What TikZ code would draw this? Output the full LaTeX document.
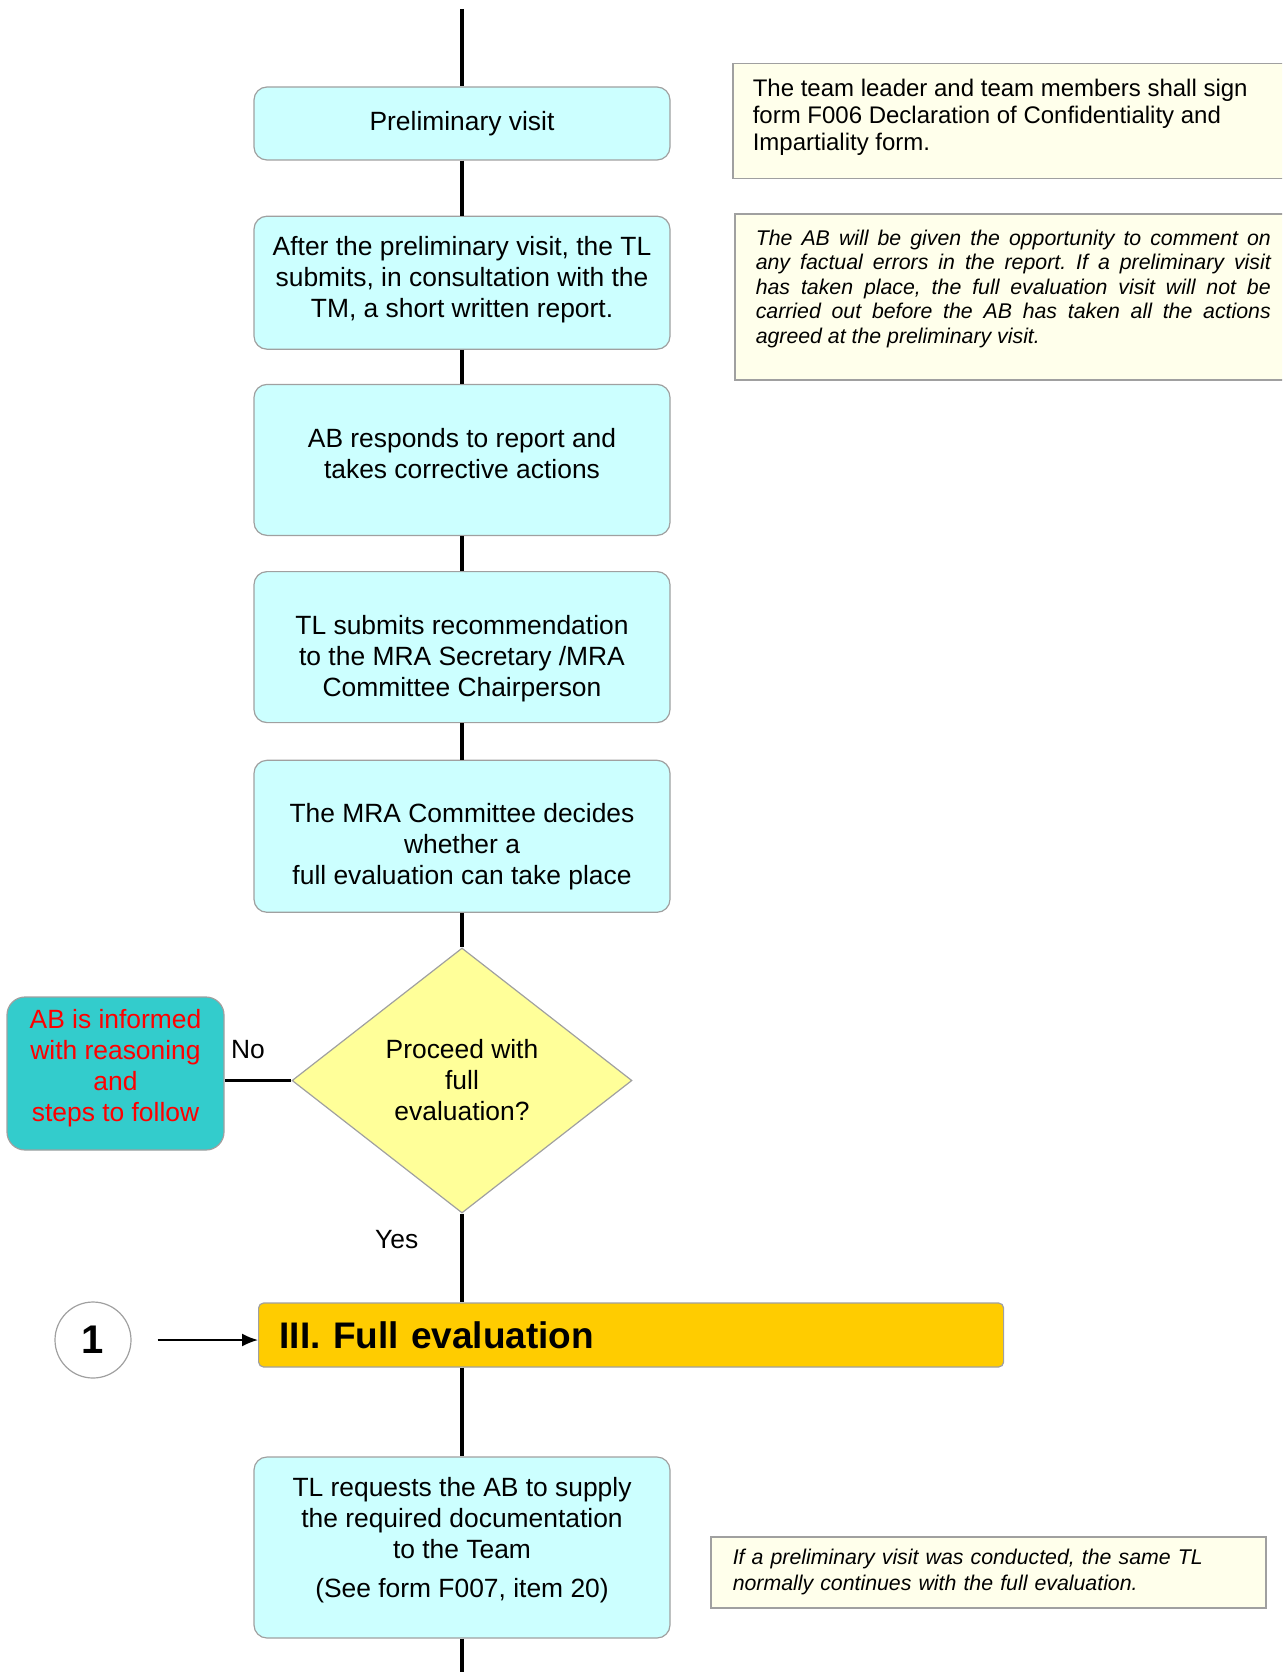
\documentclass[tikz,border=0pt]{standalone}
\usepackage{fontspec}
\setmainfont{Liberation Sans}
\usepackage{xcolor}
\usetikzlibrary{arrows.meta, positioning, shapes.geometric}
\frenchspacing
\definecolor{mraStep}{HTML}{CCFFFF}
\definecolor{mraReject}{HTML}{33CCCC}
\definecolor{mraDecide}{HTML}{FFFF99}
\definecolor{mraNote}{HTML}{FFFFEB}
\definecolor{mraPhase}{HTML}{FFCC00}
\definecolor{mraEdge}{HTML}{A0A0A0}
\newcommand{\mraboxfont}{\fontsize{26.4}{31}\selectfont}
\newcommand{\mranotefont}{\fontsize{21.3}{24.5}\selectfont}
% invisible struts that move a box text up or down
\newcommand{\mrapadtop}[1]{\rule{0pt}{#1}}
\newcommand{\mrapadbot}[1]{\rule[-#1]{0pt}{#1}}
\tikzset{
  mra-step/.style={
    rectangle, rounded corners=13pt, draw=mraEdge, line width=1.2pt,
    fill=mraStep, minimum width=416pt, align=center, font=\mraboxfont
  },
  mra-decision/.style={
    diamond, draw=mraEdge, line width=1.2pt, fill=mraDecide,
    minimum width=340pt, minimum height=265pt, inner sep=0pt,
    align=center, font=\mraboxfont
  },
  mra-reject/.style={
    rectangle, rounded corners=18pt, draw=mraEdge, line width=1.2pt,
    fill=mraReject, text=red, minimum width=217pt, minimum height=153pt,
    align=center, font=\mraboxfont
  },
  mra-phase/.style={
    rectangle, rounded corners=5pt, draw=mraEdge, line width=1.2pt,
    fill=mraPhase, minimum height=64pt, text width=703pt, inner xsep=21pt,
    align=left, font=\fontsize{37}{44}\selectfont\bfseries
  },
  mra-link/.style={
    circle, draw=mraEdge, line width=1.2pt, fill=white, minimum size=76pt,
    inner sep=0pt, font=\fontsize{40}{48}\selectfont\bfseries
  },
  mra-note/.style={
    rectangle, draw=mraEdge, line width=1.5pt, fill=mraNote,
    anchor=north west, align=left
  },
  mra-label/.style={inner sep=2pt, font=\mraboxfont},
  mra-spine/.style={line width=3.5pt, draw=black},
  mra-arrow/.style={-{Latex[length=16pt, width=13pt]}, line width=1.8pt},
}
\begin{document}
\begin{tikzpicture}[x=1pt, y=-1pt]
  \useasboundingbox (0,0) rectangle (1282,1672);
  \clip (0,0) rectangle (1282,1672);

  \coordinate (top) at (462,9);
  \node[mra-step, minimum height=73pt] (visit) at (462,123.5) {Preliminary visit};
  \node[mra-step, minimum height=133pt, below=55pt of visit] (report)
    {After the preliminary visit, the TL\\submits, in consultation with the\\TM, a short written report.\mrapadbot{11.6pt}};
  \node[mra-step, minimum height=151pt, below=34pt of report] (respond)
    {AB responds to report and\\takes corrective actions\mrapadbot{13pt}};
  \node[mra-step, minimum height=151pt, below=35pt of respond] (recommend)
    {\mrapadtop{43pt}TL submits recommendation\\to the MRA Secretary /MRA\\Committee Chairperson};
  \node[mra-step, minimum height=152pt, below=36.5pt of recommend] (decide)
    {\mrapadtop{39pt}The MRA Committee decides\\whether a\\full evaluation can take place};
  \node[mra-decision, below=34.5pt of decide] (proceed) {Proceed with\\full\\evaluation?};
  \node[mra-reject] (informed) at (115.5,1073.5)
    {AB is informed\\with reasoning\\and\\steps to follow\mrapadbot{15.6pt}};

  \node[mra-phase, anchor=west] (phase) at (258,1335) {III. Full evaluation};
  \node[mra-link] (link) at (93,1340) {1};
  \node[mra-step, minimum height=181pt] (request) at (462,1547.5)
    {TL requests the AB to supply\\the required documentation\\to the Team\\[8pt](See form F007, item 20)\mrapadbot{20.6pt}};
  \coordinate (bottom) at (462,1690);

  % side notes
  \node[mra-note, inner xsep=20pt, inner ysep=15.5pt] (sign) at (732,63)
    {\parbox[t][84pt][t]{518pt}{\raggedright\fontsize{24}{26.7}\selectfont
      The team leader and team members shall sign\\form F006 Declaration of Confidentiality and\\Impartiality form.}};
  \node[mra-note, inner xsep=21pt, inner ysep=16pt] (comment) at (734,213)
    {\parbox[t][134pt][t]{515pt}{\mranotefont\itshape
      The AB will be given the opportunity to comment on\linebreak
      any factual errors in the report. If a preliminary visit\linebreak
      has taken place, the full evaluation visit will not be\linebreak
      carried out before the AB has taken all the actions\linebreak
      agreed at the preliminary visit.}};
  \node[mra-note, inner xsep=22pt, text width=511pt, minimum height=71pt,
    font=\fontsize{21.3}{25.6}\selectfont\itshape] (sameTL) at (710,1536)
    {If a preliminary visit was conducted, the same TL\\normally continues with the full evaluation.};

  \draw[mra-spine] (top) -- (visit);
  \draw[mra-spine] (visit) -- (report);
  \draw[mra-spine] (report) -- (respond);
  \draw[mra-spine] (respond) -- (recommend);
  \draw[mra-spine] (recommend) -- (decide);
  \draw[mra-spine] (decide) -- (proceed);
  \draw[mra-spine] (proceed.west) -- (proceed.west -| informed.east)
    node[mra-label, pos=0.65, above=18pt] {No};
  \draw[mra-spine] (proceed.south) -- (proceed.south |- phase.north)
    node[mra-label, pos=0.29, left=40pt] {Yes};
  \draw[mra-spine] (phase.south -| request.north) -- (request.north);
  \draw[mra-spine] (request) -- (bottom);
  \draw[mra-arrow, shorten <=26pt] (link.east) -- (link.east -| phase.west);

\end{tikzpicture}
\end{document}
